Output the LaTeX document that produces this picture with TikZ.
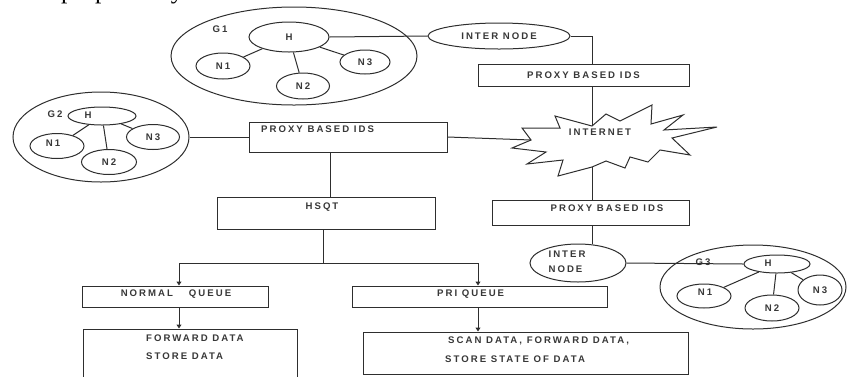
\documentclass[tikz,border=0pt]{standalone}
\usepackage{fontspec}
\setmainfont{Liberation Serif}
\newfontfamily\labfont[LetterSpace=21]{Liberation Sans}
\usetikzlibrary{arrows.meta,shapes.geometric}
\tikzset{
  ln/.style={draw=black!82, line width=1pt},
  arr/.style={ln, -{Triangle[width=5pt,length=4pt]}},
  ell/.style={ellipse, draw=black!82, line width=1pt, inner sep=0pt, fill=white,
    font=\labfont\bfseries\fontsize{9.6}{11}\selectfont, text=black!78},
  box/.style={rectangle, draw=black!82, line width=1pt, inner sep=0pt, fill=white},
  tx/.style={inner sep=0pt, font=\labfont\bfseries\fontsize{9.6}{11}\selectfont, text=black!78},
}
\begin{document}
\begin{tikzpicture}[x=1pt,y=-1pt]
\useasboundingbox (0,0) rectangle (856,376);
\node[anchor=base west, inner sep=0pt, font=\fontsize{25.5}{30}\selectfont] (cap) at (61,-1.5) {proposed system};

% ---------- G1 ----------
\node[ell, minimum width=246pt, minimum height=98pt] (g1) at (294,56) {};
\node[tx] (g1l) at (220,29) {G1};
\node[ell, minimum width=80pt, minimum height=30pt] (h1) at (289,37) {H};
\node[ell, minimum width=54pt, minimum height=26pt] (n11) at (223,66) {N1};
\node[ell, minimum width=53pt, minimum height=26pt] (n12) at (303,86) {N2};
\node[ell, minimum width=50pt, minimum height=24pt] (n13) at (365,62) {N3};
\draw[ln] (h1) -- (n11);
\draw[ln] (h1) -- (n12);
\draw[ln] (h1) -- (n13);

\node[ell, minimum width=142pt, minimum height=26pt] (inter1) at (499,36) {INTER NODE};
\draw[ln] (h1.east) -- (inter1.west);

\coordinate (sp) at (592,0);
\node[box, minimum width=211pt, minimum height=22pt, tx] (pbox1) at (583.5,75) {PROXY BASED IDS};
\draw[ln] (inter1.east) -| (sp |- pbox1.north);

% ---------- INTERNET ----------
\coordinate (inetT) at (592,126);
\coordinate (inetB) at (592,167);
\coordinate (inetL) at (531,140);
\draw[ln, fill=white] (555,116) -- (inetT) -- (606,114) -- (620,121) -- (652,105) -- (651,124)
  -- (683,115) -- (664,130) -- (717,127) -- (672,138) -- (690,155) -- (660,150)
  -- (648,162) -- (630,157) -- (625,168) -- (606,161) -- (inetB) -- (558,176)
  -- (563,160) -- (527,164) -- (546,152) -- (512,148) -- (inetL) -- (522,128)
  -- (560,128) -- cycle;
\node[tx] (inet) at (600,132) {INTERNET};
\draw[ln] (sp |- pbox1.south) -- (inetT);

\node[box, minimum width=197pt, minimum height=25pt] (pbox3) at (590.5,212.5) {};
\node[tx] (pbox3t) at (607,208) {PROXY BASED IDS};
\draw[ln] (inetB) -- (sp |- pbox3.north);

% ---------- G3 ----------
\node[ell, minimum width=96pt, minimum height=38pt] (inter2) at (578,263) {};
\node[tx, align=left] (inter2t) at (567,262) {INTER\\[4pt]NODE};
\draw[ln] (sp |- pbox3.south) -- (sp |- inter2.north);

\node[ell, minimum width=186pt, minimum height=84pt] (g3) at (753,287) {};
\node[tx] (g3l) at (703,262) {G3};
\node[ell, minimum width=66pt, minimum height=18pt] (h3) at (777,264) {};
\node[tx] (h3t) at (768,263) {H};
\node[ell, minimum width=54pt, minimum height=24pt] (n31) at (704,296) {};
\node[tx] (n31t) at (705,292) {N1};
\node[ell, minimum width=54pt, minimum height=26pt] (n32) at (772,308) {N2};
\node[ell, minimum width=44pt, minimum height=30pt] (n33) at (820,290) {N3};
\draw[ln] (h3) -- (n31);
\draw[ln] (h3) -- (n32);
\draw[ln] (h3) -- (n33);
\draw[ln] (inter2.east) -- (h3.west);

% ---------- G2 ----------
\node[ell, minimum width=176pt, minimum height=90pt] (g2) at (101,137) {};
\node[tx] (g2l) at (55,114) {G2};
\node[ell, minimum width=68pt, minimum height=18pt] (h2) at (102,116) {};
\node[tx] (h2t) at (88,115) {H};
\node[ell, minimum width=54pt, minimum height=25pt] (n21) at (57,146) {};
\node[tx] (n21t) at (53,143) {N1};
\node[ell, minimum width=55pt, minimum height=25pt] (n22) at (109,162) {N2};
\node[ell, minimum width=53pt, minimum height=25pt] (n23) at (153,137) {N3};
\draw[ln] (h2) -- (n21);
\draw[ln] (h2) -- (n22);
\draw[ln] (h2) -- (n23);

\node[box, minimum width=198pt, minimum height=30pt] (pbox2) at (348,137) {};
\node[tx, anchor=west] (pbox2t) at (261,129) {PROXY BASED IDS};
\draw[ln] (g2.east) -- (pbox2.west);
\draw[ln] (pbox2.east) -- (inetL);

\node[box, minimum width=218pt, minimum height=32pt] (hsqt) at (326,213) {};
\node[tx] (hsqtt) at (322,207) {HSQT};
\coordinate (bx) at (330,0);
\draw[ln] (bx |- pbox2.south) -- (bx |- hsqt.north);

% ---------- queues ----------
\node[box, minimum width=186pt, minimum height=21pt] (nq) at (175,296.5) {};
\node[tx] (nqt) at (176,294) {NORMAL\hspace{16pt}QUEUE};
\node[box, minimum width=255pt, minimum height=21pt] (pq) at (479.5,296.5) {};
\node[tx, anchor=west] (pqt) at (437,294) {PRI QUEUE};

\coordinate (hb) at (323,263);
\coordinate (nqx) at (179,0);
\coordinate (pqx) at (478,0);
\draw[ln] (hb |- hsqt.south) -- (hb);
\draw[arr] (hb) -| (nqx |- nq.north);
\draw[arr] (hb) -| (pqx |- pq.north);

\node[box, minimum width=214pt, minimum height=56pt] (fbox) at (190,357) {};
\node[tx, anchor=west] (f1) at (146,338) {FORWARD DATA};
\node[tx, anchor=west] (f2) at (146,356) {STORE DATA};
\node[box, minimum width=325pt, minimum height=42pt] (sbox) at (525.5,353) {};
\node[tx, anchor=west] (s1) at (448,341) {SCAN DATA, FORWARD DATA,};
\node[tx, anchor=west] (s2) at (445,359) {STORE STATE OF DATA};
\draw[arr] (nqx |- nq.south) -- (nqx |- fbox.north);
\draw[arr] (pqx |- pq.south) -- (pqx |- sbox.north);
\end{tikzpicture}
\end{document}
